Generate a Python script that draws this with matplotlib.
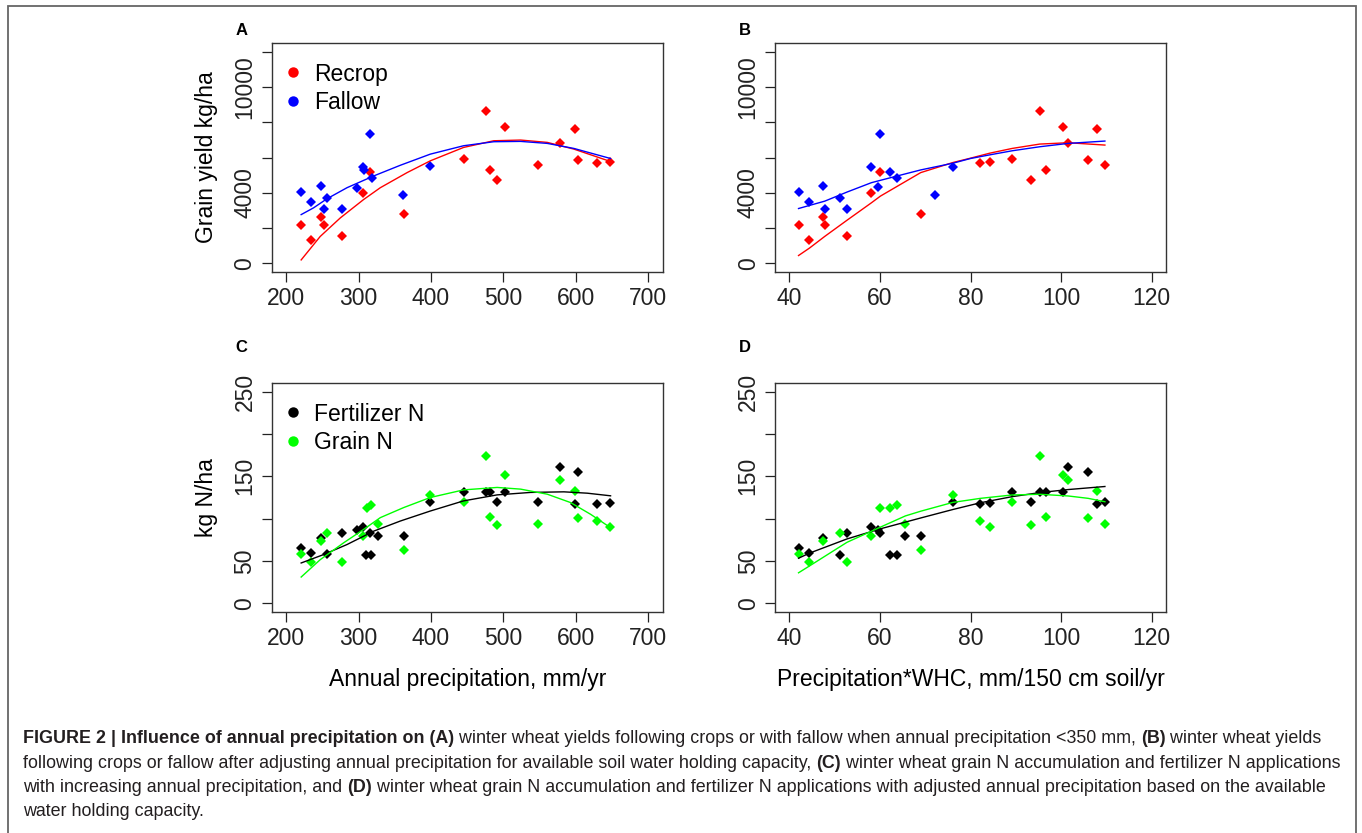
import matplotlib
matplotlib.use("Agg")
import numpy as np
import matplotlib.pyplot as plt
from matplotlib.patches import Rectangle

plt.rcParams['font.family'] = ['Liberation Sans', 'DejaVu Sans']

W, H = 1362, 833

# ---- panel A: yield vs annual precipitation
precip_recrop = [220.7, 234, 248, 252, 276.5, 305.5, 315.6, 363, 445, 475.4, 482, 490.6,
                 501.7, 547.8, 578.6, 598.4, 603, 629.3, 647.7]
yield_recrop_a = [2190, 1333, 2610, 2190, 1524, 3960, 5200, 2819, 5924, 8629, 5314, 4705,
                  7752, 5581, 6819, 7619, 5867, 5714, 5771]
precip_fallow = [220.7, 234, 248, 252, 256.7, 276.5, 297.7, 305.5, 307.8, 315.6, 318.8, 361.7, 399]
yield_fallow_a = [4038, 3486, 4362, 3086, 3695, 3086, 4286, 5486, 5300, 7333, 4838, 3886, 5524]

fit_a_x_recrop = [220.7, 247, 274.7, 307, 330, 367, 399, 445, 486.7, 523.7, 560.6, 597.4, 648]
fit_a_y_recrop = [189, 1520, 2571, 3617, 4286, 5143, 5810, 6571, 6950, 6990, 6857, 6476, 5771]
fit_a_x_fallow = [220.7, 237.8, 256.3, 284, 320.8, 357.7, 399, 445, 486.7, 523.7, 560.6, 597.4, 648]
fit_a_y_fallow = [2760, 3143, 3657, 4286, 4952, 5560, 6190, 6667, 6895, 6914, 6800, 6514, 5943]

# ---- panel B: yield vs precipitation*WHC
whc_recrop = [42, 44.4, 47.3, 47.8, 52.7, 58.1, 60.1, 69, 82.2, 84.3, 89.2, 93.4, 95.3, 96.6,
              100.5, 101.6, 106, 108, 109.7]
yield_recrop_b = [2190, 1333, 2610, 2190, 1524, 3960, 5200, 2819, 5714, 5771, 5924, 4705, 8629,
                  5314, 7752, 6819, 5867, 7619, 5581]
whc_fallow = [42, 44.4, 47.3, 47.8, 51.2, 52.8, 58, 59.6, 60.1, 62.2, 63.8, 72.2, 76.1]
yield_fallow_b = [4038, 3486, 4362, 3086, 3695, 3086, 5448, 4305, 7333, 5200, 4838, 3886, 5486]

fit_b_x_recrop = [42, 44.4, 47.8, 52.7, 58.1, 60.1, 69, 76.1, 80, 84.3, 89.2, 95.3, 101.6, 109.7]
fit_b_y_recrop = [438, 857, 1524, 2438, 3429, 3810, 5143, 5714, 5962, 6248, 6514, 6762, 6838, 6705]
fit_b_x_fallow = [42, 47.8, 52.7, 58.1, 63.8, 69, 76.1, 80, 84.3, 89.2, 95.3, 101.6, 109.7]
fit_b_y_fallow = [3105, 3524, 4038, 4571, 4952, 5295, 5676, 5943, 6152, 6381, 6610, 6800, 6933]

# ---- panel C: N vs annual precipitation
precip_fert = [220.7, 234, 248, 256.7, 276.5, 297.7, 305.5, 310, 315.6, 317.5, 327, 363, 399,
               445, 475.4, 482, 490.6, 501.7, 547.8, 578.6, 598.4, 603, 629.3, 647.7]
fert_n_c = [64.8, 59.2, 77.2, 58, 83.2, 86, 90.4, 57.6, 83.2, 57.6, 80, 80, 120,
            131.6, 131.6, 131.6, 120, 131.6, 120, 161.2, 117.2, 155.6, 117.2, 118.8]
precip_grain = [220.7, 234, 248, 256.7, 276.5, 305.5, 311, 317.5, 327, 363, 399, 445, 475.4,
                482, 490.6, 501.7, 547.8, 578.6, 598.4, 603, 629.3, 647.7]
grain_n_c = [58.8, 49.2, 73.2, 83.2, 49.2, 80, 112.8, 116, 93.2, 63.2, 128, 120, 174,
             101.6, 92, 151.2, 93.2, 145.6, 132.8, 100.4, 97.2, 90]

fit_c_x_fert = [220.7, 251.6, 284, 320.8, 357.7, 399, 445, 491.4, 537.5, 583.5, 615.8, 648]
fit_c_y_fert = [47.6, 57.5, 69.4, 85.2, 97.2, 109, 121, 128.1, 131, 131.7, 130.1, 127]
fit_c_x_grain = [220.7, 247, 279.3, 307, 330, 362.3, 399, 445, 491.4, 523.7, 560.6, 592.8, 620.5, 648]
fit_c_y_grain = [31, 51.5, 71.4, 87.3, 101.2, 113.1, 125, 134, 136.9, 134.9, 128.9, 119, 105.1, 89.3]

# ---- panel D: N vs precipitation*WHC
whc_fert = [42, 44.4, 47.3, 51.2, 52.8, 58, 59.6, 60.1, 62.2, 63.8, 65.6, 69, 76.1, 82.2, 84.3,
            89.2, 93.4, 95.3, 96.6, 100.5, 101.6, 106, 108, 109.7]
fert_n_d = [65.2, 59.2, 77.2, 57.6, 83.2, 90.4, 86, 83.2, 57.6, 57.6, 80, 80, 120, 117.2, 118.8,
            131.6, 120, 131.6, 131.6, 131.6, 161.2, 155.6, 117.2, 120]
whc_grain = [42, 44.4, 47.3, 51.2, 52.8, 58, 60.1, 62.2, 63.8, 65.6, 69, 76.1, 82.2, 84.3, 89.2,
             93.4, 95.3, 96.6, 100.5, 101.6, 106, 108, 109.7]
grain_n_d = [58.8, 49.2, 73.2, 83.2, 49.2, 80, 112.8, 112.8, 116, 93.2, 63.2, 128, 97.2, 90, 120,
             92, 174, 101.6, 151.2, 145.6, 100.4, 132.8, 93.2]

fit_d_x_fert = [42, 44.4, 52.7, 60.1, 69, 76.1, 82.2, 89.2, 95.3, 101.6, 109.7]
fit_d_y_fert = [53.2, 59.2, 76, 88, 100.8, 110.8, 118.8, 126, 130.8, 134.4, 138]
fit_d_x_grain = [42, 44.4, 52.7, 60.1, 65.6, 69, 76.1, 82.2, 89.2, 95.3, 101.6, 106, 109.7]
fit_d_y_grain = [36, 44, 72, 90, 103.2, 108.8, 119.2, 124, 128, 128.8, 126.8, 124, 120]

yield_ticks = [0, 2000, 4000, 6000, 8000, 10000, 12000]
yield_labels = ['0', '', '4000', '', '', '10000', '']
n_ticks = [0, 50, 100, 150, 200, 250]
n_labels = ['0', '50', '', '150', '', '250']
precip_ticks = [200, 300, 400, 500, 600, 700]
whc_ticks = [40, 60, 80, 100, 120]

fig = plt.figure(figsize=(W / 100, H / 100), dpi=100)
fig.patch.set_facecolor('white')


def px_axes(left, top, right, bottom):
    return fig.add_axes([left / W, 1 - bottom / H, (right - left) / W, (bottom - top) / H])


def style(ax, xticks, xlim, yticks, ylabels, ylim):
    ax.set_xlim(xlim[0] - 0.04 * (xlim[1] - xlim[0]), xlim[1] + 0.04 * (xlim[1] - xlim[0]))
    ax.set_ylim(ylim[0] - 0.04 * (ylim[1] - ylim[0]), ylim[1] + 0.04 * (ylim[1] - ylim[0]))
    ax.set_xticks(xticks)
    ax.set_yticks(yticks)
    ax.set_yticklabels(ylabels, rotation=90, va='center')
    ax.tick_params(direction='out', length=7, width=0.9, labelsize=16.5, pad=4, colors='#222222')
    for s in ax.spines.values():
        s.set_linewidth(1.0)
        s.set_color('#333333')


def legend(ax, items):
    for i, (lab, col) in enumerate(items):
        yy = 0.873 - i * 0.124
        ax.plot([0.055], [yy], 'o', color=col, ms=7.5, mec='none', transform=ax.transAxes)
        ax.text(0.108, yy - 0.036, lab, fontsize=16.5, va='baseline', ha='left',
                transform=ax.transAxes)


mk = dict(marker='D', ms=5.5, mew=0, linestyle='none')

# A
axA = px_axes(271.7, 43.3, 662.7, 271.7)
axA.plot(precip_recrop, yield_recrop_a, color='#ff0000', **mk)
axA.plot(precip_fallow, yield_fallow_a, color='#0000ff', **mk)
axA.plot(fit_a_x_recrop, fit_a_y_recrop, color='#ff0000', lw=1)
axA.plot(fit_a_x_fallow, fit_a_y_fallow, color='#0000ff', lw=1)
style(axA, precip_ticks, (200, 700), yield_ticks, yield_labels, (0, 12000))
axA.set_ylabel('Grain yield kg/ha', fontsize=16.5)
axA.yaxis.set_label_coords(-0.138, 0.5)
legend(axA, [('Recrop', '#ff0000'), ('Fallow', '#0000ff')])

# B
axB = px_axes(775, 43.3, 1166, 271.7)
axB.plot(whc_recrop, yield_recrop_b, color='#ff0000', **mk)
axB.plot(whc_fallow, yield_fallow_b, color='#0000ff', **mk)
axB.plot(fit_b_x_recrop, fit_b_y_recrop, color='#ff0000', lw=1)
axB.plot(fit_b_x_fallow, fit_b_y_fallow, color='#0000ff', lw=1)
style(axB, whc_ticks, (40, 120), yield_ticks, yield_labels, (0, 12000))

# C
axC = px_axes(271.7, 383.3, 662.7, 611.7)
axC.plot(precip_fert, fert_n_c, color='#000000', **mk)
axC.plot(precip_grain, grain_n_c, color='#00ff00', **mk)
axC.plot(fit_c_x_fert, fit_c_y_fert, color='#000000', lw=1)
axC.plot(fit_c_x_grain, fit_c_y_grain, color='#00ff00', lw=1)
style(axC, precip_ticks, (200, 700), n_ticks, n_labels, (0, 250))
axC.set_ylabel('kg N/ha', fontsize=16.5)
axC.yaxis.set_label_coords(-0.138, 0.5)
axC.set_xlabel('Annual precipitation, mm/yr', fontsize=16.5)
axC.xaxis.set_label_coords(0.5, -0.245)
legend(axC, [('Fertilizer N', '#000000'), ('Grain N', '#00ff00')])

# D
axD = px_axes(775, 383.3, 1166, 611.7)
axD.plot(whc_fert, fert_n_d, color='#000000', **mk)
axD.plot(whc_grain, grain_n_d, color='#00ff00', **mk)
axD.plot(fit_d_x_fert, fit_d_y_fert, color='#000000', lw=1)
axD.plot(fit_d_x_grain, fit_d_y_grain, color='#00ff00', lw=1)
style(axD, whc_ticks, (40, 120), n_ticks, n_labels, (0, 250))
axD.set_xlabel('Precipitation*WHC, mm/150 cm soil/yr', fontsize=16.5)
axD.xaxis.set_label_coords(0.5, -0.245)

# panel letters
for lab, x, y in [('A', 241.7, 30.8), ('B', 745, 30.8), ('C', 241.7, 348), ('D', 745, 348)]:
    fig.text(x / W, 1 - y / H, lab, fontsize=12, fontweight='bold', ha='center', va='center')

# outer frame
fig.add_artist(Rectangle((8 / W, -0.01), (1356 - 8) / W, 1.01 - 6 / H, transform=fig.transFigure,
                         fill=False, edgecolor='#666666', lw=1.3))

# caption
caption = [
    [("FIGURE 2 | Influence of annual precipitation on (A)", True),
     (" winter wheat yields following crops or with fallow when annual precipitation <350 mm, ", False),
     ("(B)", True), (" winter wheat yields", False)],
    [("following crops or fallow after adjusting annual precipitation for available soil water holding capacity, ", False),
     ("(C)", True), (" winter wheat grain N accumulation and fertilizer N applications", False)],
    [("with increasing annual precipitation, and ", False), ("(D)", True),
     (" winter wheat grain N accumulation and fertilizer N applications with adjusted annual precipitation based on the available", False)],
    [("water holding capacity.", False)],
]
renderer = fig.canvas.get_renderer()


def draw_line(parts, x0, base, size):
    x = x0
    for txt, bold in parts:
        t = fig.text(x / W, 1 - base / H, txt, fontsize=size, color='#231f20',
                     fontweight='bold' if bold else 'normal', ha='left', va='baseline')
        x += t.get_window_extent(renderer).width
    return x - x0


# scale the caption so that the second line spans the same width as in the figure
w = draw_line(caption[1], 22.7, -100, 11)
for t in list(fig.texts):
    if t.get_position()[1] > 1.0:
        t.remove()
cap_size = 11 * 1309 / w
for i, parts in enumerate(caption):
    draw_line(parts, 22.7, 743.3 + i * 24.4, cap_size)

fig.savefig('out.png', dpi=100, facecolor='white')
